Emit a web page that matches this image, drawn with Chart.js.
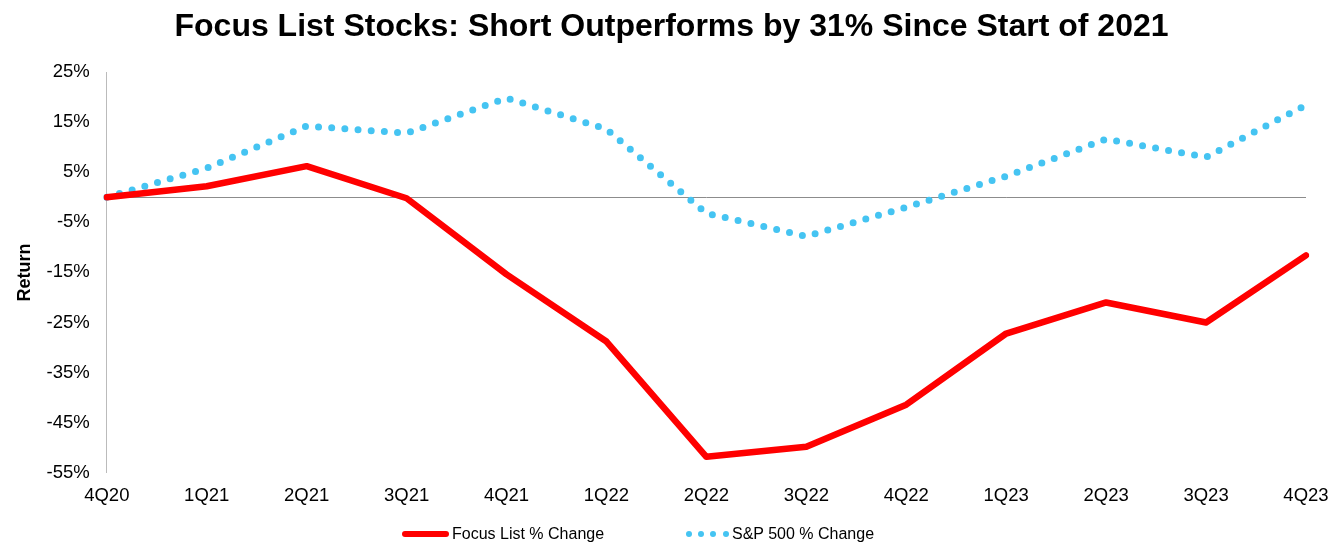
<!DOCTYPE html>
<html>
<head>
<meta charset="utf-8">
<script src="https://cdn.jsdelivr.net/npm/chart.js@4"></script>
<style>
  html, body { margin: 0; padding: 0; background: #fff; overflow: hidden; }
  #wrap { width: 1343px; height: 543px; position: relative; font-family: "Liberation Sans", Arial, sans-serif; }
  #title { position: absolute; left: 0; top: 9px; width: 1343px; text-align: center; font-size: 32px; line-height: 32px; font-weight: bold; color: #000; white-space: nowrap; }
  #legend { position: absolute; left: 0; top: 0; width: 1343px; height: 543px; pointer-events: none; }
  .lg-item { position: absolute; top: 524px; height: 20px; display: flex; align-items: center; font-size: 16px; color: #000; white-space: nowrap; }
  .lg-swatch { position: relative; height: 6px; margin-right: 3px; }
  .lg-dot { position: absolute; top: 0; width: 6px; height: 6px; border-radius: 50%; }
  #chartBox { position: absolute; left: 0; top: 0; width: 1343px; height: 543px; }
</style>
</head>
<body>
<div id="wrap">
  <div id="chartBox"><canvas id="returnChart"></canvas></div>
  <div id="title">Focus List Stocks: Short Outperforms by 31% Since Start of 2021</div>
  <div id="legend"></div>
</div>
<script>
const quarters = ['4Q20', '1Q21', '2Q21', '3Q21', '4Q21', '1Q22', '2Q22', '3Q22', '4Q22', '1Q23', '2Q23', '3Q23', '4Q23'];
const focusList = [0, 2.2, 6.2, -0.2, -15.4, -28.8, -51.8, -49.8, -41.4, -27.2, -21, -25, -11.6];
const sp500 = [0, 5.8, 14.2, 12.8, 19.8, 13.6, -3.2, -7.8, -2, 4.2, 11.6, 8, 18.4];
const yTicks = [-55, -45, -35, -25, -15, -5, 5, 15, 25];

Chart.defaults.font.family = '"Liberation Sans", Arial, sans-serif';
Chart.defaults.color = '#000';

const datasets = [
    {
        label: 'Focus List % Change',
        data: focusList,
        borderColor: '#ff0000',
        backgroundColor: '#ff0000',
        borderWidth: 6.5,
        pointRadius: 0,
        tension: 0,
        borderCapStyle: 'round',
        borderJoinStyle: 'round'
    },
    {
        label: 'S&P 500 % Change',
        data: sp500,
        borderColor: '#45c4f2',
        backgroundColor: '#45c4f2',
        borderWidth: 7,
        borderDash: [0, 13.2],
        borderCapStyle: 'round',
        pointRadius: 0,
        tension: 0
    }
];

const ctx = document.getElementById('returnChart').getContext('2d');
const chart = new Chart(ctx, {
    type: 'line',
    data: { labels: quarters, datasets: datasets },
    options: {
        responsive: true,
        maintainAspectRatio: false,
        animation: false,
        layout: { padding: { left: 14, right: 37, top: 72, bottom: 32 } },
        plugins: {
            title: { display: false },
            legend: { display: false },
            tooltip: { enabled: false }
        },
        scales: {
            x: {
                grid: { display: false },
                border: { display: false },
                ticks: { font: { size: 18.5 }, maxRotation: 0, padding: 4 }
            },
            y: {
                min: -55,
                max: 25,
                afterBuildTicks: (axis) => { axis.ticks = yTicks.map(v => ({ value: v })); },
                grid: { display: false },
                border: { display: true, color: '#bbb', width: 1 },
                title: {
                    display: true,
                    text: 'Return',
                    font: { size: 18, weight: 'bold' },
                    padding: { top: 0, bottom: 2 }
                },
                ticks: {
                    font: { size: 18.5 },
                    padding: 9,
                    callback: (v) => v + '%'
                }
            }
        }
    },
    plugins: [{
        id: 'zeroLine',
        beforeDatasetsDraw(chart) {
            const { ctx, chartArea, scales } = chart;
            const y = scales.y.getPixelForValue(0);
            ctx.save();
            ctx.strokeStyle = '#8c8c8c';
            ctx.lineWidth = 1;
            ctx.beginPath();
            ctx.moveTo(chartArea.left, Math.round(y) + 0.5);
            ctx.lineTo(chartArea.right, Math.round(y) + 0.5);
            ctx.stroke();
            ctx.restore();
        }
    }]
});

// legend, built from the datasets
const legendLefts = [402, 686];
const legendEl = document.getElementById('legend');
datasets.forEach((ds, i) => {
    const item = document.createElement('div');
    item.className = 'lg-item';
    item.style.left = legendLefts[i] + 'px';
    const sw = document.createElement('div');
    sw.className = 'lg-swatch';
    if (ds.borderDash) {
        sw.style.width = '43px';
        for (let k = 0; k < 4; k++) {
            const d = document.createElement('div');
            d.className = 'lg-dot';
            d.style.left = (k * 12.2) + 'px';
            d.style.background = ds.borderColor;
            sw.appendChild(d);
        }
    } else {
        sw.style.width = '47px';
        sw.style.background = ds.borderColor;
        sw.style.borderRadius = '3px';
    }
    item.appendChild(sw);
    const tx = document.createElement('span');
    tx.textContent = ds.label;
    item.appendChild(tx);
    legendEl.appendChild(item);
});
</script>
</body>
</html>
